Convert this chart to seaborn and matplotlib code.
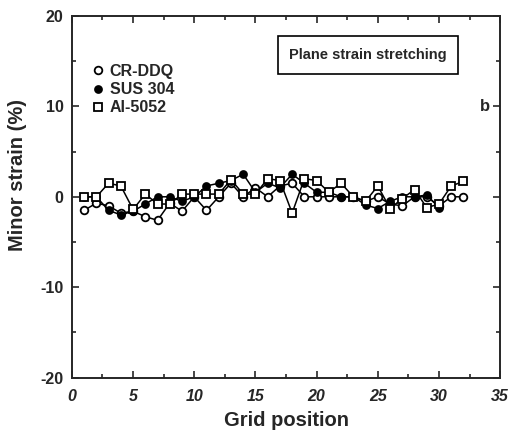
import pandas as pd
import matplotlib
matplotlib.use('Agg')
import matplotlib.pyplot as plt
import seaborn as sns

positions = list(range(1, 33))
cr_ddq = [-1.5, -0.7, -1.0, -1.8, -1.6, -2.2, -2.6, -0.7, -1.6, 0.0, -1.5, 0.0,
          1.5, 0.0, 1.0, 0.0, 1.2, 1.5, 0.0, 0.0, 0.0, 0.0, 0.0, -0.5,
          0.0, -0.8, -1.0, 0.0, 0.0, -1.0, 0.0, 0.0]
sus_304 = [0.0, 0.0, -1.5, -2.0, -1.6, -0.8, 0.0, 0.0, -0.5, 0.0, 1.2, 1.5,
           1.8, 2.5, 0.5, 1.5, 1.0, 2.5, 1.5, 0.5, 0.5, 0.0, 0.0, -0.9,
           -1.3, -0.5, 0.0, 0.0, 0.2, -1.2]
al_5052 = [0.0, 0.0, 1.5, 1.2, -1.4, 0.3, -0.8, -0.8, 0.3, 0.3, 0.3, 0.3,
           1.9, 0.3, 0.3, 2.0, 1.8, -1.8, 2.0, 1.8, 0.5, 1.5, 0.0, -0.5,
           1.2, -1.3, -0.2, 0.8, -1.2, -0.8, 1.2, 1.7]
series_names = ['CR-DDQ', 'SUS 304', 'Al-5052']

df = pd.concat([
    pd.DataFrame({'pos': positions[:len(cr_ddq)], 'strain': cr_ddq, 'mat': series_names[0]}),
    pd.DataFrame({'pos': positions[:len(sus_304)], 'strain': sus_304, 'mat': series_names[1]}),
    pd.DataFrame({'pos': positions[:len(al_5052)], 'strain': al_5052, 'mat': series_names[2]}),
])

sns.set_style('ticks')
plt.rcParams['font.family'] = ['Liberation Sans', 'DejaVu Sans']
plt.rcParams['font.weight'] = 'bold'
plt.rcParams['axes.unicode_minus'] = False

fig = plt.figure(figsize=(5.21, 4.33), dpi=100)
ax = fig.add_axes([0.138, 0.128, 0.822, 0.835])

styles = {
    'CR-DDQ': dict(marker='o', mfc='white', ms=5.5),
    'SUS 304': dict(marker='o', mfc='black', ms=5),
    'Al-5052': dict(marker='s', mfc='white', ms=6),
}
for name in series_names:
    sub = df[df['mat'] == name]
    sns.lineplot(data=sub, x='pos', y='strain', ax=ax, color='black', lw=1.1,
                 marker=styles[name]['marker'], markersize=styles[name]['ms'],
                 markerfacecolor=styles[name]['mfc'], markeredgecolor='black',
                 markeredgewidth=1.3, label=name)

ax.set_xlim(0, 35)
ax.set_ylim(-20, 20)
ax.set_xticks(range(0, 36, 5))
ax.set_yticks([-20, -10, 0, 10, 20])
ax.set_xticks([2.5 + 5 * i for i in range(7)], minor=True)
ax.set_yticks([-15, -5, 5, 15], minor=True)
ax.tick_params(which='both', direction='in', top=True, right=True, width=1.2)
ax.tick_params(which='major', length=5, labelsize=11.5)
ax.tick_params(which='minor', length=3)
ax.tick_params(axis='x', pad=8)
ax.tick_params(axis='y', pad=6)
for lab in ax.get_xticklabels():
    lab.set_fontstyle('italic')
    lab.set_fontweight('bold')
for lab in ax.get_yticklabels():
    lab.set_fontweight('bold')
for sp in ax.spines.values():
    sp.set_linewidth(1.4)

ax.set_xlabel('Grid position', fontsize=14.5, fontweight='bold', labelpad=5)
ax.set_ylabel('Minor strain (%)', fontsize=14.5, fontweight='bold')
ax.yaxis.set_label_coords(-0.105, 0.56)

leg = ax.legend(loc='upper left', bbox_to_anchor=(0.045, 0.885), frameon=False,
                handlelength=0, handletextpad=0.75, labelspacing=0.2,
                fontsize=11.5, borderaxespad=0)
for line in leg.get_lines():
    line.set_linestyle('none')

ax.text(24.2, 15.7, 'Plane strain stretching', ha='center', va='center', fontsize=10.5,
        bbox=dict(boxstyle='square,pad=0.8', fc='white', ec='black', lw=1.2))
ax.text(33.8, 10.0, 'b', ha='center', va='center', fontsize=12, fontweight='bold')

fig.savefig('out.png', dpi=100)
